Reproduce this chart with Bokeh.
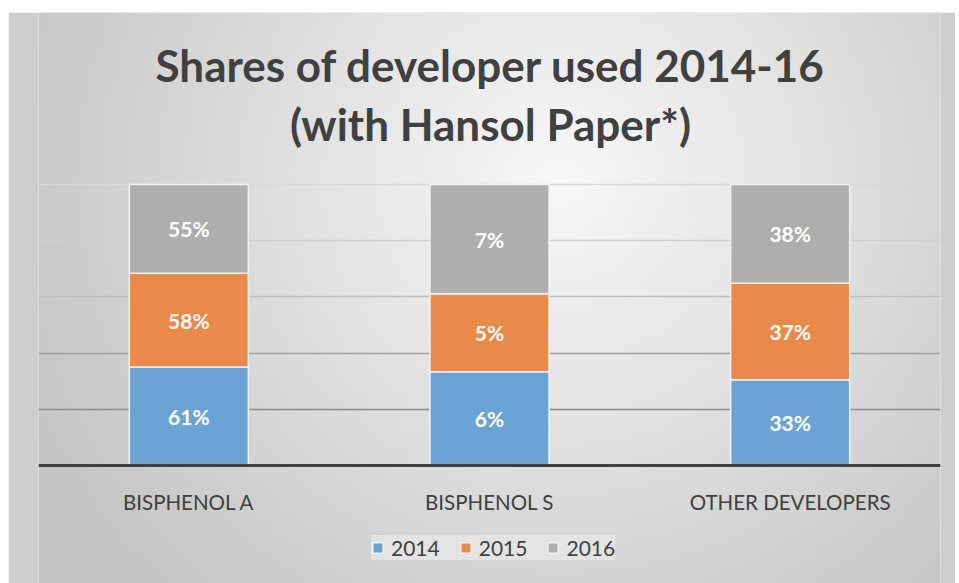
import numpy as np
from bokeh.plotting import figure
from bokeh.models import (ColumnDataSource, Legend, LegendItem, Range1d, FactorRange,
                          Label, Grid, FixedTicker)
from bokeh.core.properties import value
from bokeh.embed import file_html
from bokeh.resources import INLINE

categories = ["BISPHENOL A", "BISPHENOL S", "OTHER DEVELOPERS"]
years = ["2014", "2015", "2016"]
v2014 = [61, 6, 33]
v2015 = [58, 5, 37]
v2016 = [55, 7, 38]
colors = ["#6CA3D6", "#EA8A4A", "#AEAEAE"]
grid_ticks = [20, 40, 60, 80, 100]
grid_colors = ["#8A8A8A", "#A0A0A0", "#BEBEBE", "#CFCFCF", "#D8D8D8"]
title_lines = ["Shares of developer used 2014-16", "(with Hansol Paper*)"]

FONT = "Lato"
TXT = "#404040"
Y0, Y1 = -41.99, 161.21

series = [v2014, v2015, v2016]
totals = [sum(t) for t in zip(*series)]
data = {"cat": categories}
bottoms = [0.0] * len(categories)
mids_x, mids_y, labs = [], [], []
for y, vals in zip(years, series):
    shares = [v / t * 100 for v, t in zip(vals, totals)]
    data["s" + y] = shares
    for i, (c, s, v) in enumerate(zip(categories, shares, vals)):
        mids_x.append(c)
        mids_y.append(bottoms[i] + s / 2)
        labs.append(f"{v}%")
        bottoms[i] += s
source = ColumnDataSource(data)
lab_src = ColumnDataSource(dict(x=mids_x, y=mids_y, t=labs))

p = figure(width=947, height=571, margin=(12, 4, 0, 8),
           x_range=FactorRange(*categories, range_padding=0),
           y_range=Range1d(Y0, Y1),
           output_backend="svg", toolbar_location=None,
           min_border_left=30, min_border_right=15,
           min_border_top=0, min_border_bottom=0)
p.border_fill_color = "#CECECE"
p.background_fill_color = "#E0E0E0"
p.outline_line_color = None

# soft radial background shading (decoration only)
W, H = 180, 120
jj, ii = np.meshgrid(np.arange(W), np.arange(H))
px = 38 + (jj + 0.5) / W * 902
py = 583 - (ii + 0.5) / H * 571
d = np.sqrt(((px - 560) / 480) ** 2 + ((py - 180) / 470) ** 2)
g = np.clip(248 - 42 * d, 196, 250).astype(np.uint32)
img = (255 << 24) | (g << 16) | (g << 8) | g
p.image_rgba(image=[img.astype(np.uint32)], x=0, y=Y0, dw=3, dh=Y1 - Y0, level="image")

p.yaxis.visible = False
p.xgrid.visible = False
p.ygrid.visible = False
for t, c in zip(grid_ticks, grid_colors):
    p.add_layout(Grid(dimension=1, ticker=FixedTicker(ticks=[t]), grid_line_color=c,
                      grid_line_width=1.5))

renderers = p.vbar_stack(["s" + y for y in years], x="cat", width=0.396,
                         color=colors, source=source,
                         line_color="#F2F2F2", line_width=1.5)

p.text(x="x", y="y", text="t", source=lab_src, text_color="white",
       text_font=value(FONT), text_font_style="bold", text_font_size="21px",
       text_align="center", text_baseline="middle")

xa = p.xaxis[0]
xa.fixed_location = 0
xa.axis_line_color = TXT
xa.axis_line_width = 3
xa.major_tick_line_color = None
xa.minor_tick_line_color = None
xa.major_label_text_font = FONT
xa.major_label_text_font_size = "20.5px"
xa.major_label_text_color = TXT
xa.major_label_standoff = 18

for txt, yy in zip(title_lines, [519, 460]):
    p.add_layout(Label(x=452, y=yy, x_units="screen", y_units="screen", text=txt,
                       text_align="center", text_baseline="middle",
                       text_font=FONT, text_font_style="bold",
                       text_font_size="44px", text_color=TXT))

legend = Legend(items=[LegendItem(label=y, renderers=[r]) for y, r in zip(years, renderers)],
                location=(333, 23), orientation="horizontal")
legend.label_text_font = FONT
legend.label_text_font_size = "21px"
legend.label_text_color = TXT
legend.label_height = 20
legend.glyph_width = 13
legend.glyph_height = 13
legend.label_standoff = 7
legend.spacing = 19
legend.padding = 13
legend.margin = 0
legend.background_fill_color = "#E3E3E3"
legend.background_fill_alpha = 1
legend.border_line_color = None
p.add_layout(legend, "center")

open("out.html", "w").write(file_html(p, INLINE))
